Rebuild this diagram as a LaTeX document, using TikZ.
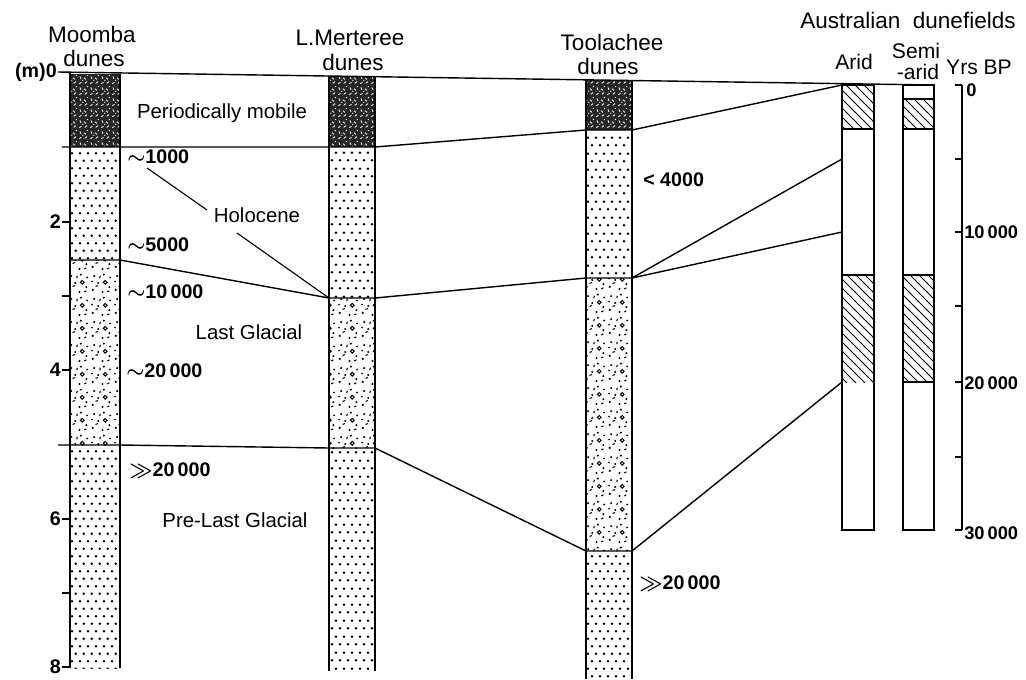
\documentclass[tikz,border=0pt]{standalone}
\usepackage{fontspec}
\setmainfont{Liberation Sans}
\usepackage{tikz}
\usetikzlibrary{patterns}

% fine sand
\pgfdeclarepatternformonly{sanddots}{\pgfqpoint{0pt}{0pt}}{\pgfqpoint{5.6pt}{11pt}}{\pgfqpoint{5.6pt}{11pt}}{%
  \pgfpathcircle{\pgfqpoint{1.4pt}{2.75pt}}{1pt}
  \pgfpathcircle{\pgfqpoint{4.2pt}{8.25pt}}{1pt}
  \pgfusepath{fill}}
% pebbly sand
\pgfdeclarepatternformonly{pebbly}{\pgfqpoint{0pt}{0pt}}{\pgfqpoint{16pt}{16pt}}{\pgfqpoint{16pt}{16pt}}{%
  \pgfpathcircle{\pgfqpoint{2pt}{3pt}}{0.85pt}
  \pgfpathcircle{\pgfqpoint{9pt}{1.5pt}}{0.8pt}
  \pgfpathcircle{\pgfqpoint{14pt}{5pt}}{0.85pt}
  \pgfpathcircle{\pgfqpoint{6pt}{8pt}}{0.8pt}
  \pgfpathcircle{\pgfqpoint{3pt}{13pt}}{0.85pt}
  \pgfpathcircle{\pgfqpoint{10pt}{14pt}}{0.8pt}
  \pgfpathcircle{\pgfqpoint{14.5pt}{12pt}}{0.7pt}
  \pgfpathcircle{\pgfqpoint{1.5pt}{9pt}}{0.7pt}
  \pgfusepath{fill}
  \pgfsetlinewidth{0.75pt}
  \pgfpathcircle{\pgfqpoint{11pt}{8.5pt}}{1.3pt}
  \pgfpathmoveto{\pgfqpoint{4pt}{5.5pt}}\pgfpathlineto{\pgfqpoint{5.8pt}{6.1pt}}
  \pgfpathmoveto{\pgfqpoint{7pt}{11.5pt}}\pgfpathlineto{\pgfqpoint{7.5pt}{13.2pt}}
  \pgfpathmoveto{\pgfqpoint{12.5pt}{1.5pt}}\pgfpathlineto{\pgfqpoint{14pt}{2.3pt}}
  \pgfusepath{stroke}}
% mobile dune crest
\pgfdeclarepatternformonly{mottle}{\pgfqpoint{0pt}{0pt}}{\pgfqpoint{8pt}{8pt}}{\pgfqpoint{8pt}{8pt}}{%
  \pgfsetlinewidth{0.6pt}
  \pgfpathmoveto{\pgfqpoint{1pt}{1pt}}\pgfpathlineto{\pgfqpoint{2.6pt}{2pt}}
  \pgfpathmoveto{\pgfqpoint{4.5pt}{5.5pt}}\pgfpathlineto{\pgfqpoint{6pt}{4.2pt}}
  \pgfpathmoveto{\pgfqpoint{1.5pt}{6.5pt}}\pgfpathlineto{\pgfqpoint{2.2pt}{4.6pt}}
  \pgfpathmoveto{\pgfqpoint{5pt}{1.2pt}}\pgfpathlineto{\pgfqpoint{6.8pt}{2.6pt}}
  \pgfpathmoveto{\pgfqpoint{3.2pt}{3.4pt}}\pgfpathlineto{\pgfqpoint{4pt}{3.8pt}}
  \pgfpathmoveto{\pgfqpoint{6.6pt}{6.8pt}}\pgfpathlineto{\pgfqpoint{7.4pt}{7.4pt}}
  \pgfusepath{stroke}}
% dune activity
\pgfdeclarepatternformonly{widehatch}{\pgfqpoint{-1pt}{-1pt}}{\pgfqpoint{7.5pt}{7.5pt}}{\pgfqpoint{6.4pt}{6.4pt}}{%
  \pgfsetlinewidth{0.7pt}
  \pgfpathmoveto{\pgfqpoint{0pt}{6.4pt}}\pgfpathlineto{\pgfqpoint{6.5pt}{-0.1pt}}
  \pgfusepath{stroke}}

\begin{document}
\begin{tikzpicture}[x=0.025cm, y=-0.025cm]

\tikzset{
    mobile/.style={fill=black!85, postaction={pattern=mottle, pattern color=white}},
    sand/.style={pattern=sanddots},
    pebble/.style={pattern=pebbly},
    hatch/.style={pattern=widehatch},
    colline/.style={line width=1.1pt},
    bound/.style={line width=1pt},
    leader/.style={line width=0.8pt},
    mytitle/.style={inner sep=0pt, font=\fontsize{16}{18}\selectfont},
    mylabel/.style={inner sep=0pt, font=\fontsize{14.5}{17}\selectfont},
    myage/.style={inner sep=0pt, anchor=west, font=\bfseries\fontsize{14}{16}\selectfont},
    mytick/.style={inner sep=0pt, font=\bfseries\fontsize{14}{16}\selectfont},
    myyear/.style={inner sep=0pt, anchor=west, font=\bfseries\fontsize{13}{15}\selectfont}
}

\useasboundingbox (0,0) rectangle (1026,679);

% ── Moomba ──
\fill[mobile] (70,74) rectangle (120,147);
\fill[sand]   (70,147) rectangle (120,260);
\fill[pebble] (70,260) rectangle (120,445);
\fill[sand]   (70,445) rectangle (120,668);

% ── L.Merteree ──
\fill[mobile] (329,76) rectangle (375,147);
\fill[sand]   (329,147) rectangle (375,298);
\fill[pebble] (329,298) rectangle (375,448);
\fill[sand]   (329,448) rectangle (375,671);

% ── Toolachee ──
\fill[mobile] (586,80) rectangle (632,130);
\fill[sand]   (586,130) rectangle (632,278);
\fill[pebble] (586,278) rectangle (632,551);
\fill[sand]   (586,551) rectangle (632,679);

% ── dunefields ──
\fill[hatch] (842,85) rectangle (874,129);
\fill[hatch] (842,275) rectangle (874,382);
\fill[hatch] (903,99) rectangle (934,129);
\fill[hatch] (903,275) rectangle (934,382);

% ── junctions ──
\coordinate (mooA)  at (62,147);
\coordinate (mooB)  at (70,260);
\coordinate (mooC)  at (58,445);
\coordinate (merAl) at (329,147);
\coordinate (merAr) at (375,147);
\coordinate (merBl) at (329,298);
\coordinate (merBr) at (375,298);
\coordinate (merCl) at (329,448);
\coordinate (merCr) at (375,448);
\coordinate (tooAl) at (586,130);
\coordinate (tooAr) at (632,130);
\coordinate (tooBl) at (586,278);
\coordinate (tooBr) at (632,278);
\coordinate (tooCl) at (586,551);
\coordinate (tooCr) at (632,551);
\coordinate (ar0)   at (842,85);
\coordinate (ar5)   at (842,159);
\coordinate (ar10)  at (842,232);
\coordinate (ar20)  at (842,382);
\coordinate (top0)  at (58,72);
\coordinate (top1)  at (934,85);

% ── correlation lines ──
\draw[bound] (top0) -- (top1);
\draw[bound] (mooA) -- (merAl) -- (merAr) -- (tooAl) -- (tooAr) -- (ar0);
\draw[bound] (mooB) -- (120,260) -- (merBl) -- (merBr) -- (tooBl) -- (tooBr) -- (ar5);
\draw[bound] (tooBr) -- (ar10);
\draw[bound] (mooC) -- (120,445) -- (merCl) -- (merCr) -- (tooCl) -- (tooCr) -- (ar20);

% ── column edges ──
\draw[colline] (70,72) -- (70,668);
\draw[colline] (120,74) -- (120,668);
\draw[colline] (329,76) -- (329,671);
\draw[colline] (375,76) -- (375,671);
\draw[colline] (586,80) -- (586,679);
\draw[colline] (632,80) -- (632,679);
\draw[colline] (842,85) rectangle (874,530);
\draw[colline] (903,85) rectangle (934,530);
\draw[bound] (842,129) -- (874,129) (842,275) -- (874,275);
\draw[bound] (903,99) -- (934,99) (903,129) -- (934,129) (903,275) -- (934,275) (903,382) -- (934,382);

% ── depth axis ──
\foreach \yy in {222,296,370,519,593,667}
    \draw[colline] (62,\yy) -- (70,\yy);
\node[mytick, anchor=east] (d0) at (57,72)  {(m)0};
\node[mytick, anchor=east] (d2) at (61,222) {2};
\node[mytick, anchor=east] (d4) at (61,370) {4};
\node[mytick, anchor=east] (d6) at (61,519) {6};
\node[mytick, anchor=east] (d8) at (61,667) {8};

% ── years axis ──
\draw[colline] (962,85) -- (962,530);
\foreach \yy in {85,159,232,306,382,457,530}
    \draw[colline] (955,\yy) -- (962,\yy);
\node[myyear] (y0)  at (966,90)  {0};
\node[myyear] (y10) at (964,232) {10\,000};
\node[myyear] (y20) at (964,383) {20\,000};
\node[myyear] (y30) at (964,533) {30\,000};

% ── titles ──
\node[mytitle] (t1)  at (92,34)  {Moomba};
\node[mytitle] (t1b) at (94,58)  {dunes};
\node[mytitle] (t2)  at (350,38) {L.Merteree};
\node[mytitle] (t2b) at (353,62) {dunes};
\node[mytitle] (t3)  at (612,42) {Toolachee};
\node[mytitle] (t3b) at (608,66) {dunes};
\node[mytitle] (t4)  at (908,20) {Australian\ \ dunefields};
\node[mytitle, font=\fontsize{15}{17}\selectfont] (t5)  at (854,62) {Arid};
\node[mytitle, font=\fontsize{15}{17}\selectfont] (t6)  at (916,51) {Semi};
\node[mytitle, font=\fontsize{15}{17}\selectfont] (t6b) at (918,72) {-arid};
\node[mytitle, font=\fontsize{15}{17}\selectfont] (t7)  at (979,67) {Yrs BP};

% ── periods ──
\node[mylabel] (mob)  at (222,113) {Periodically mobile};
\node[mylabel] (holo) at (257,215) {Holocene};
\node[mylabel] (lgm)  at (249,332) {Last Glacial};
\node[mylabel] (plg)  at (235,520) {Pre-Last Glacial};

% ── ages ──
\node[myage] (a1)  at (127,157) {{\boldmath$\sim$}1000};
\node[myage] (a2)  at (127,245) {{\boldmath$\sim$}5000};
\node[myage] (a3)  at (127,292) {{\boldmath$\sim$}10\,000};
\node[myage] (a4)  at (126,371) {{\boldmath$\sim$}20\,000};
\node[myage] (a5)  at (129,470) {{\boldmath$\gg$}20\,000};
\node[myage] (a6)  at (643,180) {<\ 4000};
\node[myage] (a7)  at (639,583) {{\boldmath$\gg$}20\,000};

% ── Holocene leaders ──
\coordinate (h1) at (147,168);
\coordinate (h2) at (207,210);
\coordinate (h3) at (237,233);
\draw[leader] (h1) -- (h2);
\draw[leader] (h3) -- (merBl);

\end{tikzpicture}
\end{document}
